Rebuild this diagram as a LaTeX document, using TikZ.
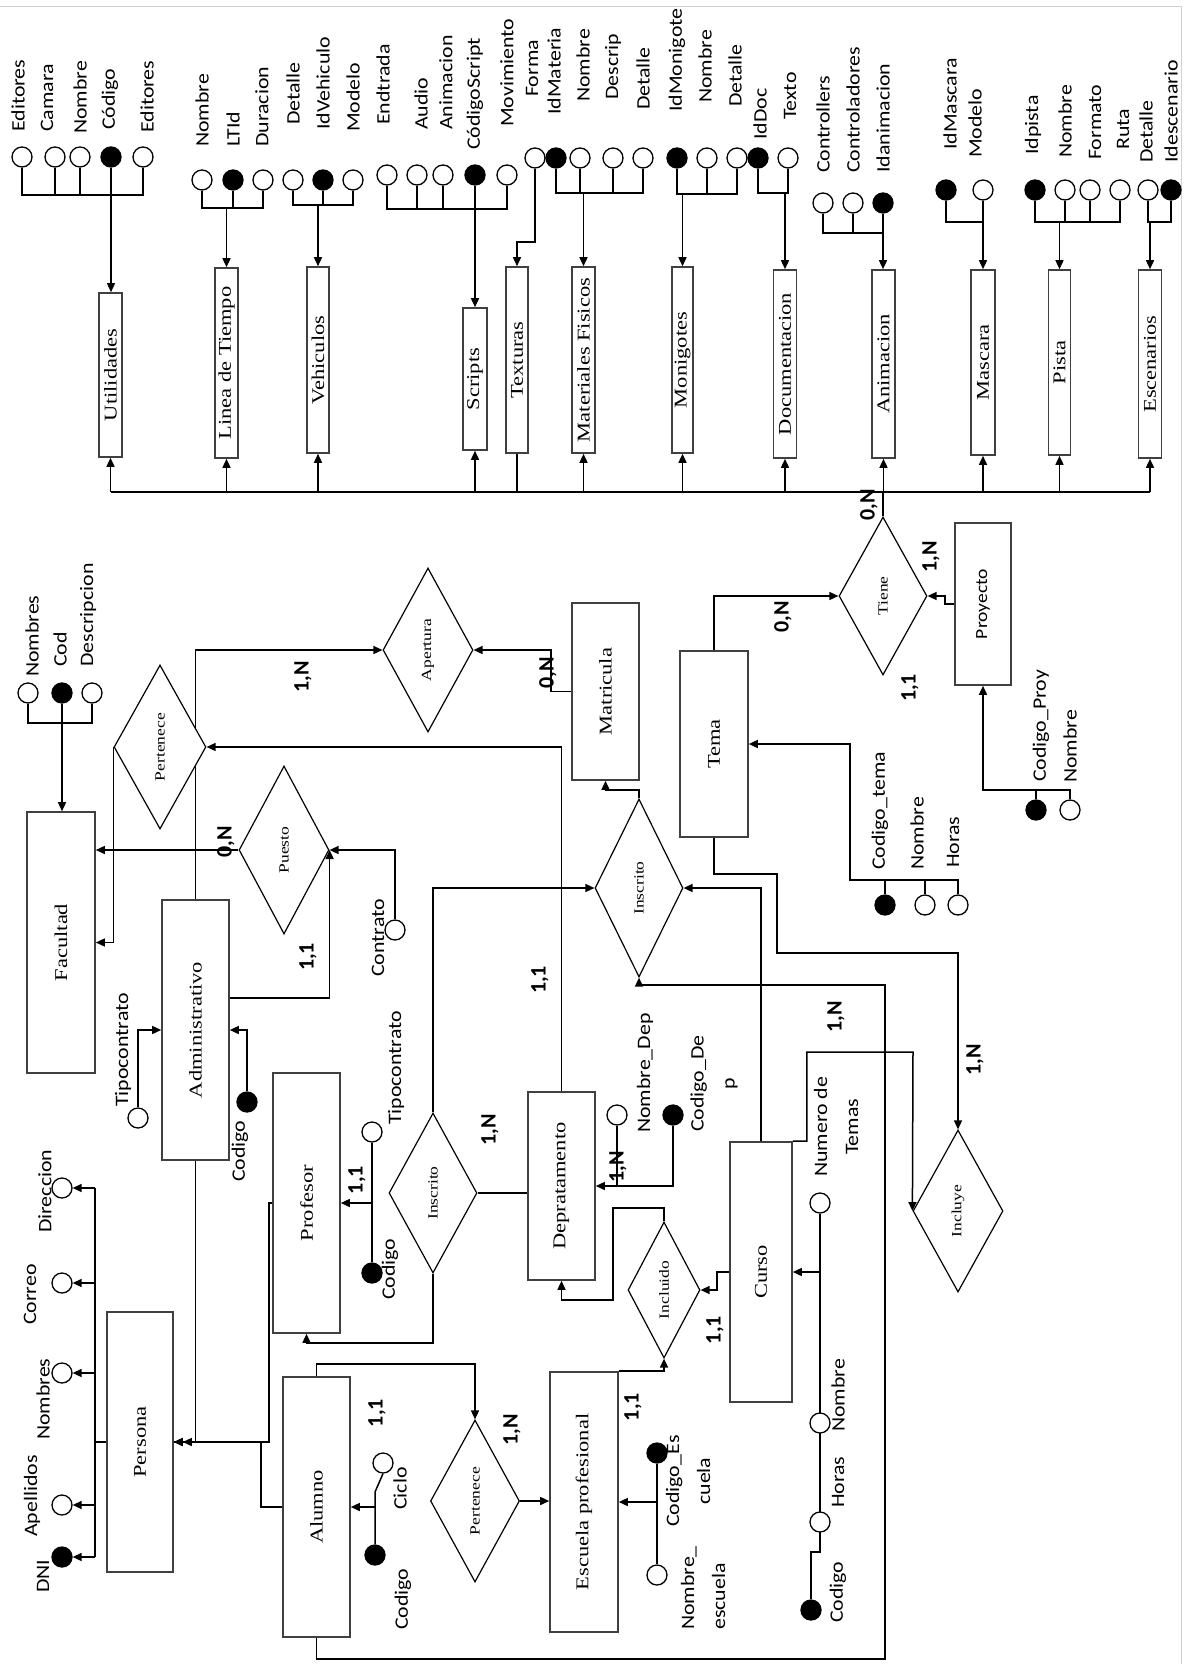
\documentclass[tikz,border=0pt]{standalone}
\usepackage{fontspec}
\setmainfont{Liberation Serif}
\newfontfamily\af[FakeStretch=1.15]{Carlito}
\newfontfamily\ef[FakeStretch=1.25]{Liberation Serif}
\newfontfamily\cf{Carlito}
\usetikzlibrary{shapes.geometric,arrows.meta}
\pgfdeclarelayer{bg}
\pgfsetlayers{bg,main}
\tikzset{
  ln/.style={line width=1.5pt},
  arr/.style={ln,-{Triangle[length=9pt,width=8pt]}},
  arrtwo/.style={ln,-{Triangle[length=9pt,width=8pt]Triangle[length=9pt,width=8pt]}},
  entbox/.style={draw=black!75, line width=1.6pt, fill=white, inner sep=0},
  entlab/.style={rotate=90, font=\ef\fontsize{18}{20}\selectfont, inner sep=0},
  relbox/.style={diamond, draw, line width=1.2pt, fill=white, inner sep=0},
  rellab/.style={rotate=90, font=\ef\fontsize{14}{16}\selectfont, inner sep=0},
  att/.style={circle, draw, line width=1.3pt, fill=white, minimum size=20pt, inner sep=0},
  keyatt/.style={att, fill=black},
  alab/.style={rotate=90, anchor=west, font=\af\fontsize{19}{31}\selectfont, inner sep=0},
  card/.style={rotate=90, font=\cf\bfseries\fontsize{22}{24}\selectfont, inner sep=0},
}
\newcommand\mkent[6]{\node[entbox, minimum width=#4, minimum height=#5, label={[entlab]center:#6}] (#1) at (#2,#3) {};}
\newcommand\mkrel[6]{\node[relbox, minimum width=#4, minimum height=#5, label={[rellab]center:#6}] (#1) at (#2,#3) {};}
\newcommand\attbar[4]{\draw[ln] (#1.#4) -- (#1.#4 |- 0,#3) -- (#2.#4 |- 0,#3) -- (#2.#4);}
\newcommand\attdrop[3]{\draw[ln] (#1.#3) -- (#1.#3 |- 0,#2);}
\begin{document}
\begin{tikzpicture}[x=1pt,y=-1pt]
\useasboundingbox (0,0) rectangle (1193,1664);
\draw[black!18, line width=1pt] (0,7) -- (1181,7) -- (1181,1664);

% ---------- top entities ----------
\mkent{util}{110.5}{375}{23}{164}{Utilidades}
\mkent{linea}{226.5}{363}{23}{190}{Linea de Tiempo}
\mkent{vehic}{318}{360}{22}{186}{Vehiculos}
\mkent{scr}{475}{379}{24}{142}{Scripts}
\mkent{tex}{517}{360}{22}{186}{Texturas}
\mkent{mat2}{583.5}{360}{23}{186}{Materiales Fisicos}
\mkent{mon}{682.5}{360}{21}{186}{Monigotes}
\mkent{doc}{785}{364}{23}{188}{Documentacion}
\mkent{ani}{883.5}{364}{23}{188}{Animacion}
\mkent{mas}{983}{362.5}{24}{185}{Mascara}
\mkent{pis}{1059.5}{362.5}{22}{185}{Pista}
\mkent{esc2}{1150}{364}{23}{188}{Escenarios}

% ---------- top attributes ----------
\node[alab] (lu1) at (18,132) {Editores};
\node[alab] (lu2) at (47,132) {Camara};
\node[alab] (lu3) at (80,134) {Nombre};
\node[alab] (lu4) at (110,130) {Código};
\node[alab] (lu5) at (147,133) {Editores};
\node[att] (u1) at (22,157) {};
\node[att] (u2) at (55,157) {};
\node[att] (u3) at (80,157) {};
\node[keyatt] (u4) at (111,157) {};
\node[att] (u5) at (143,157) {};

\node[alab] (lt1) at (202,147) {Nombre};
\node[alab] (lt2) at (233,147) {LTId};
\node[alab] (lt3) at (262,147) {Duracion};
\node[att] (t1) at (202,180) {};
\node[keyatt] (t2) at (233,180) {};
\node[att] (t3) at (263,180) {};

\node[alab] (lv1) at (293,125) {Detalle};
\node[alab] (lv2) at (323,130) {IdVehiculo};
\node[alab] (lv3) at (353,132) {Modelo};
\node[att] (v1) at (293,180) {};
\node[keyatt] (v2) at (323,180) {};
\node[att] (v3) at (353,180) {};

\node[alab] (ls1) at (383,125) {Endtrada};
\node[alab] (ls2) at (421,130) {Audio};
\node[alab] (ls3) at (446,130) {Animacion};
\node[alab] (ls4) at (475,150) {CódigoScript};
\node[alab] (ls5) at (507,127) {Movimiento};
\node[att] (s1) at (387,175) {};
\node[att] (s2) at (417,175) {};
\node[att] (s3) at (443,175) {};
\node[keyatt] (s4) at (475,175) {};
\node[att] (s5) at (507,175) {};

\node[alab] (lf1) at (532,97) {Forma};
\node[att] (f1) at (535,158) {};

\node[alab] (lm1) at (554,115) {IdMateria};
\node[alab] (lm2) at (583,102) {Nombre};
\node[alab] (lm3) at (613,100) {Descrip};
\node[alab] (lm4) at (643,110) {Detalle};
\node[keyatt] (m1) at (556,158) {};
\node[att] (m2) at (580,158) {};
\node[att] (m3) at (613,158) {};
\node[att] (m4) at (643,158) {};

\node[alab] (lg1) at (677,112) {IdMonigote};
\node[alab] (lg2) at (705,103) {Nombre};
\node[alab] (lg3) at (735,107) {Detalle};
\node[keyatt] (g1) at (677,158) {};
\node[att] (g2) at (707,158) {};
\node[att] (g3) at (737,158) {};

\node[alab] (ld1) at (760,140) {IdDoc};
\node[alab] (ld2) at (790,120) {Texto};
\node[keyatt] (d1) at (758,158) {};
\node[att] (d2) at (788,158) {};

\node[alab] (ln1) at (823,173) {Controllers};
\node[alab] (ln2) at (853,173) {Controladores};
\node[alab] (ln3) at (883,173) {Idanimacion};
\node[att] (n1) at (823,203) {};
\node[att] (n2) at (853,203) {};
\node[keyatt] (n3) at (883,203) {};

\node[alab] (lk1) at (950,150) {IdMascara};
\node[alab] (lk2) at (975,158) {Modelo};
\node[keyatt] (k1) at (946,190) {};
\node[att] (k2) at (983,190) {};

\node[alab] (lp1) at (1033,155) {Idpista};
\node[alab] (lp2) at (1065,158) {Nombre};
\node[alab] (lp3) at (1095,160) {Formato};
\node[alab] (lp4) at (1123,150) {Ruta};
\node[keyatt] (p1) at (1035,190) {};
\node[att] (p2) at (1065,190) {};
\node[att] (p3) at (1090,190) {};
\node[att] (p4) at (1120,190) {};

\node[alab] (le1) at (1146,163) {Detalle};
\node[alab] (le2) at (1171,163) {Idescenario};
\node[att] (e1) at (1148,190) {};
\node[keyatt] (e2) at (1171,190) {};

% ---------- lower entities ----------
\mkent{fac}{61}{942.5}{68}{261}{Facultad}
\mkent{adm}{195.5}{1030}{67}{260}{Administrativo}
\mkent{prof}{306.5}{1203}{67}{260}{Profesor}
\mkent{per}{140}{1442}{66}{260}{Persona}
\mkent{alu}{316.5}{1507}{67}{260}{Alumno}
\mkent{dep}{561.5}{1186}{67}{188}{Depratamento}
\mkent{esc}{584}{1502}{68}{260}{Escuela profesional}
\mkent{cur}{761}{1272}{62}{260}{Curso}
\mkent{mat}{605.5}{691.5}{67}{177}{Matricula}
\mkent{tema}{714}{744}{68}{186}{Tema}
\node[entbox, minimum width=56, minimum height=162, label={[rotate=90, font=\af\fontsize{17}{20}\selectfont, inner sep=0]center:Proyecto}] (proy) at (983,604) {};

% ---------- relationships ----------
\mkrel{pert}{160}{747}{92}{164}{Pertenece}
\mkrel{ape}{428}{650}{90}{164}{Apertura}
\mkrel{pue}{284}{850}{90}{168}{Puesto}
\mkrel{insR}{639}{888}{88}{178}{Inscrito}
\mkrel{insL}{433}{1193}{88}{160}{Inscrito}
\mkrel{tie}{883}{596}{88}{158}{Tiene}
\mkrel{incl}{958}{1211}{90}{162}{Incluye}
\mkrel{incd}{664}{1290}{72}{136}{Incluido}
\mkrel{pb}{475}{1501}{89}{162}{Pertenece}

% ---------- lower attributes ----------
\node[alab] (lfa1) at (32,677) {Nombres};
\node[alab] (lfa2) at (60,667) {Cod};
\node[alab] (lfa3) at (88,667) {Descripcion};
\node[att] (fa1) at (28,693) {};
\node[keyatt] (fa2) at (62,693) {};
\node[att] (fa3) at (92,693) {};

\node[alab] (lpa1) at (45,1233) {Direccion};
\node[alab] (lpa2) at (30,1325) {Correo};
\node[alab] (lpa3) at (43,1440) {Nombres};
\node[alab] (lpa4) at (32,1537) {Apellidos};
\node[alab] (lpa5) at (43,1593) {DNI};
\node[att] (pa1) at (62,1188) {};
\node[att] (pa2) at (62,1283) {};
\node[att] (pa3) at (62,1373) {};
\node[att] (pa4) at (62,1505) {};
\node[keyatt] (pa5) at (62,1557) {};

\node[alab] (lac1) at (123,1107) {Tipocontrato};
\node[alab] (lac2) at (240,1182) {Codigo};
\node[att] (ac1) at (138,1118) {};
\node[keyatt] (ac2) at (247,1102) {};

\node[alab] (lpc) at (378,977) {Contrato};
\node[att] (pc) at (395,930) {};

\node[alab] (lrc1) at (396,1125) {Tipocontrato};
\node[alab] (lrc2) at (390,1300) {Codigo};
\node[att] (rc1) at (372,1132) {};
\node[keyatt] (rc2) at (372,1273) {};

\node[alab] (llc1) at (400,1510) {Ciclo};
\node[alab] (llc2) at (403,1630) {Codigo};
\node[att] (lc1) at (383,1463) {};
\node[keyatt] (lc2) at (375,1555) {};

\node[alab] (ldc1) at (645,1133) {Nombre\_Dep};
\node[alab, align=center] (ldc2) at (714,1132) {Codigo\_De\\p};
\node[att] (dc1) at (617,1115) {};
\node[keyatt] (dc2) at (673,1115) {};

\node[alab, align=center] (lec1) at (688,1527) {Codigo\_Es\\cuela};
\node[alab, align=left] (lec2) at (703,1630) {Nombre\_\\escuela};
\node[keyatt] (ec1) at (657,1453) {};
\node[att] (ec2) at (657,1575) {};

\node[alab, align=center] (lcc1) at (836,1177) {Numero de\\Temas};
\node[alab] (lcc2) at (838,1432) {Nombre};
\node[alab] (lcc3) at (838,1508) {Horas};
\node[alab] (lcc4) at (838,1623) {Codigo};
\node[att] (cc1) at (820,1203) {};
\node[att] (cc2) at (820,1423) {};
\node[att] (cc3) at (820,1522) {};
\node[keyatt] (cc4) at (811,1610) {};

\node[alab] (lta1) at (880,870) {Codigo\_tema};
\node[alab] (lta2) at (917,870) {Nombre};
\node[alab] (lta3) at (953,868) {Horas};
\node[keyatt] (ta1) at (885,905) {};
\node[att] (ta2) at (925,905) {};
\node[att] (ta3) at (958,905) {};

\node[alab] (lpp1) at (1041,782) {Codigo\_Proy};
\node[alab] (lpp2) at (1070,783) {Nombre};
\node[keyatt] (pp1) at (1036,810) {};
\node[att] (pp2) at (1070,810) {};

% ---------- cardinalities ----------
\node[card] (c1) at (303,677) {1,N};
\node[card] (c2) at (548,673) {0,N};
\node[card] (c3) at (783,617) {0,N};
\node[card] (c4) at (869,505) {0,N};
\node[card] (c5) at (931,557) {1,N};
\node[card] (c6) at (910,688) {1,1};
\node[card] (c7) at (226,842) {0,N};
\node[card] (c8) at (308,957) {1,1};
\node[card] (c9) at (540,980) {1,1};
\node[card] (c10) at (490,1130) {1,N};
\node[card] (c11) at (618,1167) {1,N};
\node[card] (c12) at (357,1180) {1,1};
\node[card] (c13) at (836,1017) {1,N};
\node[card] (c14) at (975,1060) {1,N};
\node[card] (c15) at (377,1413) {1,1};
\node[card] (c16) at (512,1430) {1,N};
\node[card] (c17) at (633,1407) {1,1};
\node[card] (c18) at (715,1330) {1,1};

% ---------- connectors ----------
\begin{pgfonlayer}{bg}
% top attribute groups
\attbar{u1}{u5}{195}{south} \attdrop{u2}{195}{south} \attdrop{u3}{195}{south}
\draw[arr] (u4.south) -- (u4.south |- util.north);
\attbar{t1}{t3}{208}{south} \attdrop{t2}{208}{south}
\draw[arr] (linea.north |- 0,208) -- (linea.north);
\attbar{v1}{v3}{205}{south} \attdrop{v2}{205}{south}
\draw[arr] (vehic.north |- 0,205) -- (vehic.north);
\attbar{s1}{s5}{209}{south} \attdrop{s2}{209}{south} \attdrop{s3}{209}{south}
\draw[arr] (s4.south) -- (s4.south |- scr.north);
\draw[arr] (f1.south) -- (f1.south |- 0,242) -| (tex.north);
\attbar{m1}{m4}{193}{south} \attdrop{m2}{193}{south} \attdrop{m3}{193}{south}
\draw[arr] (mat2.north |- 0,193) -- (mat2.north);
\attbar{g1}{g3}{194}{south} \attdrop{g2}{194}{south}
\draw[arr] (mon.north |- 0,194) -- (mon.north);
\attbar{d1}{d2}{193}{south}
\draw[arr] (doc.north |- 0,193) -- (doc.north);
\attbar{n1}{n3}{233}{south} \attdrop{n2}{233}{south}
\draw[arr] (n3.south) -- (n3.south |- ani.north);
\attbar{k1}{k2}{222}{south}
\draw[arr] (k2.south) -- (k2.south |- mas.north);
\attbar{p1}{p4}{222}{south} \attdrop{p2}{222}{south} \attdrop{p3}{222}{south}
\draw[arr] (pis.north |- 0,222) -- (pis.north);
\attbar{e1}{e2}{222}{south}
\draw[arr] (esc2.north |- 0,222) -- (esc2.north);
% bus
\draw[ln] (util.south |- 0,492) -- (esc2.south |- 0,492);
\foreach \X in {util,linea,vehic,scr,mat2,mon,doc,ani,mas,pis,esc2}
  {\draw[arr] (\X.south |- 0,492) -- (\X.south);}
\draw[ln] (tex.south |- 0,492) -- (tex.south);
\draw[ln] (tie.north) -- (tie.north |- 0,492);

% Facultad
\attbar{fa1}{fa3}{723}{south}
\draw[arr] (fa2.south) -- (fa2.south |- fac.north);
\draw[arr] (adm.north) |- (ape.west);
\draw[arr] (dep.north) |- (pert.east);
\draw[arr] (pert.west) |- (fac.east);
\draw[arr] (pue.west) -- (pue.west -| fac.east);
\draw[arr] (pc.north) |- (pue.east);
\draw[arr] (adm.east |- 0,998) -| (pue.east);
\draw[arr] (ac1.north) |- (adm.west);
\draw[arr] (ac2.north) |- (adm.east);
% Persona
\draw[arr] (adm.south) |- (per.east);
\draw[arrtwo] (prof.west) -- ++(-3,0) |- (per.east);
\draw[ln] (alu.west) -- ++(-21,0) |- (per.east);
\draw[ln] (per.west) -- (per.west -| 95,0);
\draw[ln] (pa1.east -| 95,0) -- (pa5.east -| 95,0);
\foreach \P in {pa1,pa2,pa3,pa4,pa5}
  {\draw[arr] (\P.east -| 95,0) -- (\P.east);}
% Profesor
\draw[arr] (rc1.south) |- (prof.east);
\draw[ln] (rc2.north) -- (rc2.north |- prof.east);
\draw[arr] (insL.south) -- (insL.south |- 0,1343) -| (prof.south);
\draw[arr] (insL.north) |- (insR.west);
\draw[ln] (insL.east) -- (insL.east -| dep.west);
% Departamento
\draw[ln] (dc1.south) -- (dc1.south |- dep.east);
\draw[arr] (dc2.south) |- (dep.east);
\draw[arr] (incd.north) |- (613,1208) |- (dep.south |- 0,1300) -- (dep.south);
% Curso / Incluido / Escuela
\draw[arr] (cur.west) -- ++(-12,0) |- (incd.east);
\draw[arr] (esc.north east) -| (incd.south);
\draw[ln] (ec1.south) -- (ec2.north);
\draw[arr] (ec1 |- esc.east) -- (esc.east);
\draw[arr] (pb.east) -- (pb.east -| esc.west);
\draw[arr] (alu.north) -- ++(0,-12) -| (pb.north);
\draw[ln] (lc1.south) -- (375,1492) -- (lc2.north);
\draw[arr] (lc2 |- alu.east) -- (alu.east);
\draw[arr] (alu.south) -- ++(0,21) -| (885,985) -| (insR.south);
\draw[arr] (cur.north) |- (insR.east);
\draw[arr] (tema.south) -- ++(0,36) -| (777,953) -| (incl.north);
\draw[arr] (cur.north east) -- ++(14,0) |- (913,1052) -- (incl.west);
\draw[ln] (cc1.south) -- (cc1.south |- 0,1552) -| (cc4.north);
\draw[arr] (cc1 |- cur.east) -- (cur.east);
% Tema / Tiene / Proyecto / Matricula
\draw[arr] (tema.north) |- (tie.west);
\draw[arr] (proy.west) -- ++(-9,0) |- (tie.east);
\draw[ln] (pp1.north) -- (pp1.north |- 0,790);
\draw[arr] (pp2.north) |- (proy.south |- 0,790) -- (proy.south);
\draw[ln] (ta1.north) -- (ta1.north |- 0,880);
\draw[ln] (ta2.north) -- (ta2.north |- 0,880);
\draw[arr] (ta3.north) |- (850,880) |- (tema.east);
\draw[arr] (mat.west) -- ++(-20,0) |- (ape.east);
\draw[arr] (insR.north) |- (mat.south |- 0,790) -- (mat.south);
\end{pgfonlayer}
\end{tikzpicture}
\end{document}
